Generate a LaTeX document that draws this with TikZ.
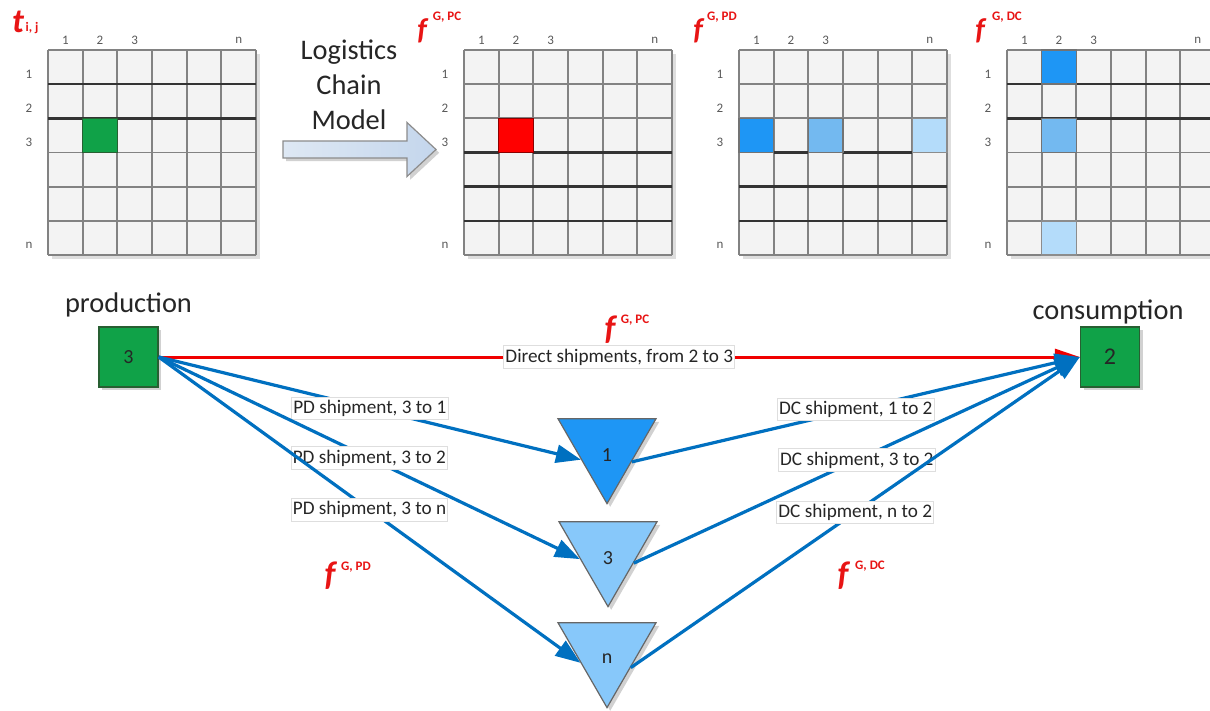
\documentclass[tikz,border=0pt]{standalone}
\usepackage{fontspec}
\setmainfont{Carlito}
\usetikzlibrary{arrows.meta,shapes.geometric,shadows}
\definecolor{cellfill}{RGB}{243,243,243}
\definecolor{gridcol}{RGB}{130,130,130}
\definecolor{dblue}{RGB}{30,150,245}
\definecolor{mblue}{RGB}{115,185,240}
\definecolor{lblue}{RGB}{180,220,250}
\definecolor{tlblue}{RGB}{135,200,250}
\definecolor{pgreen}{RGB}{16,162,72}
\definecolor{dgreen}{RGB}{40,95,50}
\definecolor{lnblue}{RGB}{0,112,192}
\definecolor{lnred}{RGB}{240,0,0}
\definecolor{fred}{RGB}{232,20,20}
\definecolor{arrowL}{RGB}{222,232,244}
\definecolor{arrowR}{RGB}{196,214,236}
\definecolor{txt}{RGB}{38,38,38}
\newcommand\mycell[4]{\filldraw[#4] ({#1+(#2-1)*34.667},{50+(#3-1)*34.167}) rectangle ({#1+#2*34.667},{50+#3*34.167});}
\begin{document}
\begin{tikzpicture}[x=0.5pt,y=-0.5pt,
  gnum/.style={font=\fontsize{6.5}{7}\selectfont, text=black!65, inner sep=0pt},
  bigtxt/.style={font=\fontsize{14.2}{17.5}\selectfont, text=txt, inner sep=0pt},
  lbl/.style={draw=black!13, line width=0.4pt, fill=white, font=\fontsize{9.6}{11}\selectfont, text=txt, inner xsep=0.8pt, inner ysep=1.2pt, text height=7pt, text depth=2pt},
  fsym/.style={text=fred, inner sep=0pt, font=\fontsize{15}{16}\selectfont\bfseries\itshape},
  fbig/.style={text=fred, inner sep=0pt, font=\fontsize{17}{18}\selectfont\bfseries\itshape},
  fsup/.style={text=fred, inner sep=0pt, font=\fontsize{6.5}{7}\selectfont\bfseries},
  shadowed/.style={drop shadow={shadow xshift=1.6pt, shadow yshift=-1.6pt, fill=black!40, opacity=0.45}},
  gridln/.style={draw=gridcol, line width=0.85pt},
  thickln/.style={draw=black!80, line width=1.3pt},
  greencell/.style={fill=pgreen, draw=dgreen, line width=0.8pt},
  redcell/.style={fill=red, draw=red!55!black, line width=0.8pt},
  dcell/.style={fill=dblue, draw=black!55, line width=0.8pt},
  mcell/.style={fill=mblue, draw=black!55, line width=0.8pt},
  lcell/.style={fill=lblue, draw=black!45, line width=0.8pt},
  box/.style={draw=dgreen, fill=pgreen, line width=0.7pt, minimum width=29.5pt, minimum height=30pt, inner sep=0pt, text=txt, shadowed},
  tri/.style={regular polygon, regular polygon sides=3, shape border rotate=180, minimum size=56.6pt, inner sep=0pt, draw=black!60, line width=0.6pt, shadowed},
  trilbl/.style={font=\fontsize{10}{12}\selectfont, text=txt, yshift=-4pt, inner sep=0pt},
  blueln/.style={draw=lnblue, line width=1.6pt, -{Triangle[length=12.5pt,width=9pt]}},
  redln/.style={draw=lnred, line width=1.5pt, -{Triangle[length=12.5pt,width=8pt]}}
]
\useasboundingbox (0,0) rectangle (1210,711);
\clip (0,0) rectangle (1210,711);
\fill[white] (0,0) rectangle (1210,711);

% grids
\foreach \gx/\gn in {48/a,464/b,739/c,1007/d} {
  \fill[black!13] (\gx+4,54) rectangle (\gx+212,259);
  \fill[cellfill] (\gx,50) rectangle (\gx+208,255);
  \foreach \i in {0,...,6} {
    \draw[gridln] (\gx+\i*34.667,50) -- (\gx+\i*34.667,255);
    \draw[gridln] (\gx,50+\i*34.167) -- (\gx+208,50+\i*34.167);
  }
  \foreach \cc/\tt in {1/1,2/2,3/3,6/n}
    \node[gnum] (\gn-col\cc) at (\gx+\cc*34.667-17.33,40) {\tt};
  \foreach \rr/\tt in {1/1,2/2,3/3,6/n}
    \node[gnum] (\gn-row\rr) at (\gx-19,50+\rr*34.167-10) {\tt};
}
% thick lines
\draw[thickln] (48,84.17) -- (256,84.17);
\draw[thickln] (48,118.33) -- (256,118.33);
\draw[thickln] (464,152.5) -- (498.7,152.5);
\draw[thickln] (533.3,152.5) -- (672,152.5);
\draw[thickln] (464,186.67) -- (672,186.67);
\draw[thickln] (464,220.83) -- (672,220.83);
\draw[thickln] (773.7,152.5) -- (808.3,152.5);
\draw[thickln] (843,152.5) -- (912.3,152.5);
\draw[thickln] (739,186.67) -- (947,186.67);
\draw[thickln] (739,220.83) -- (947,220.83);
\draw[thickln] (1007,84.17) -- (1041.7,84.17);
\draw[thickln] (1076.3,84.17) -- (1215,84.17);
\draw[thickln] (1007,118.33) -- (1215,118.33);
% coloured cells
\mycell{48}{2}{3}{greencell}
\mycell{464}{2}{3}{redcell}
\mycell{739}{1}{3}{dcell}
\mycell{739}{3}{3}{mcell}
\mycell{739}{6}{3}{lcell}
\mycell{1007}{2}{1}{dcell}
\mycell{1007}{2}{3}{mcell}
\mycell{1007}{2}{6}{lcell}

% grid titles
\node[fbig] (tsym) at (18,22) {t};
\node[fsup] (tsub) at (32,28) {i, j};
\node[fsym] (fpc) at (422,31) {f};
\node[fsup] (fpcsup) at (447,17) {G, PC};
\node[fsym] (fpd) at (698,31) {f};
\node[fsup] (fpdsup) at (722,17) {G, PD};
\node[fsym] (fdc) at (980,31) {f};
\node[fsup] (fdcsup) at (1007,17) {G, DC};

% block arrow
\draw[draw=black!45, line width=0.6pt, left color=arrowL, right color=arrowR, shadowed]
  (283,141) -- (407,141) -- (407,122.5) -- (436,149.5) -- (407,176.5) -- (407,158) -- (283,158) -- cycle;
\node[bigtxt, align=center] (lcm) at (349,85) {Logistics\\Chain\\Model};

% main nodes
\node[bigtxt, anchor=base] (prodlbl) at (128.5,313) {production};
\node[bigtxt, anchor=base] (conslbl) at (1108,320) {consumption};
\node[box, font=\fontsize{10}{12}\selectfont] (prod) at (128.5,357) {3};
\node[box, font=\fontsize{12}{14}\selectfont] (cons) at (1110,357) {2};
\node[tri, fill=dblue, label={[trilbl]center:1}] (t1) at (607,447) {};
\node[tri, fill=tlblue, label={[trilbl]center:3}] (t3) at (608,550) {};
\node[tri, fill=tlblue, label={[trilbl]center:n}] (tn) at (607,651) {};

% connectors
\draw[redln] (prod.east) -- node[lbl] (dlbl) {Direct shipments, from 2 to 3} (cons.west);
\draw[blueln] (prod.east) -- node[lbl] (pd1) {PD shipment, 3 to 1} (t1.206);
\draw[blueln] (prod.east) -- node[lbl] (pd3) {PD shipment, 3 to 2} (t3.198);
\draw[blueln] (prod.east) -- node[lbl] (pdn) {PD shipment, 3 to n} (tn.204);
\draw[blueln] (t1.329) -- node[lbl] (dc1) {DC shipment, 1 to 2} (cons.west);
\draw[blueln] (t3.333) -- node[lbl] (dc3) {DC shipment, 3 to 2} (cons.west);
\draw[blueln] (tn.325) -- node[lbl] (dcn) {DC shipment, n to 2} (cons.west);

% flow labels
\node[fbig] (fmid) at (610,330) {f};
\node[fsup] (fmidsup) at (635,320) {G, PC};
\node[fbig] (fpdl) at (330,576) {f};
\node[fsup] (fpdlsup) at (356,567) {G, PD};
\node[fbig] (fdcl) at (843,576) {f};
\node[fsup] (fdclsup) at (870,566) {G, DC};
\end{tikzpicture}
\end{document}
